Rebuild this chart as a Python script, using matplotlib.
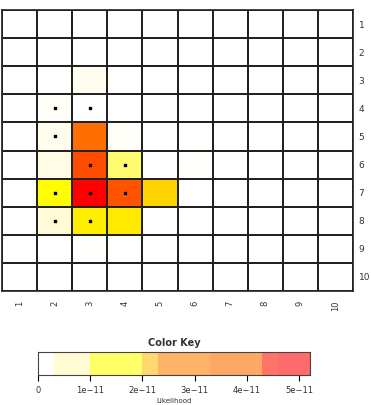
import numpy as np
import matplotlib.pyplot as plt
from matplotlib.colors import LinearSegmentedColormap, Normalize

# likelihood per cell, rows 1..10 (top to bottom), cols 1..10
rows = list(range(1, 11))
cols = list(range(1, 11))
likelihood = np.zeros((10, 10))
cells = {
    (3, 3): 0.2e-11,
    (4, 2): 0.08e-11,
    (5, 2): 0.2e-11, (5, 3): 3.6e-11, (5, 4): 0.1e-11,
    (6, 2): 0.3e-11, (6, 3): 4.3e-11, (6, 4): 1.0e-11, (6, 6): 0.06e-11,
    (7, 2): 1.6e-11, (7, 3): 5.2e-11, (7, 4): 4.2e-11, (7, 5): 2.4e-11,
    (8, 2): 0.45e-11, (8, 3): 1.9e-11, (8, 4): 2.0e-11,
    (9, 3): 0.05e-11,
}
for (r, c), v in cells.items():
    likelihood[r - 1, c - 1] = v

# observed points (row, col)
dot_rows = [4, 4, 5, 6, 6, 7, 7, 7, 8, 8]
dot_cols = [2, 3, 2, 3, 4, 2, 3, 4, 2, 3]

# colour key steps
key_breaks = [0, 0.3e-11, 1.0e-11, 2.0e-11, 2.3e-11, 3.3e-11, 4.3e-11, 4.6e-11, 5.21e-11]
key_colors = ['#ffffff', '#fffbd2', '#ffff66', '#ffd970', '#ffb366',
              '#ffa866', '#ff7466', '#ff6a6a']
key_ticks = [0, 1e-11, 2e-11, 3e-11, 4e-11, 5e-11]
key_labels = ['0', '1e\u221211', '2e\u221211', '3e\u221211', '4e\u221211', '5e\u221211']

vmax = 5.21e-11
cmap = LinearSegmentedColormap.from_list('heat', [
    (0.0, '#ffffff'), (0.1, '#fffad0'), (0.3, '#ffff00'), (0.45, '#ffd700'),
    (0.68, '#ff7000'), (0.82, '#ff5000'), (1.0, '#ff0000')])

fig = plt.figure(figsize=(3.71, 4.05), dpi=100)

ax = fig.add_axes([2 / 371, 1 - 291 / 405, 351 / 371, 281 / 405])
ax.pcolormesh(np.arange(0.5, 11), np.arange(0.5, 11), likelihood,
              cmap=cmap, norm=Normalize(0, vmax), edgecolors='#222222', linewidth=1.2)
ax.scatter(dot_cols, dot_rows, marker='s', s=4, color='black', zorder=3)
ax.set_xlim(0.5, 10.5)
ax.set_ylim(10.5, 0.5)
ax.yaxis.tick_right()
ax.set_yticks(rows)
ax.set_yticklabels([str(r) for r in rows], fontsize=6.5, color='#333333')
ax.set_xticks(cols)
ax.set_xticklabels([str(c) for c in cols], fontsize=6, rotation=90, color='#333333')
ax.tick_params(axis='x', length=0, pad=7)
ax.tick_params(axis='y', length=0, pad=4)
for s in ax.spines.values():
    s.set_color('#222222')
    s.set_linewidth(1.2)

# colour key
kax = fig.add_axes([38 / 371, 1 - 375 / 405, 272 / 371, 23 / 405])
for i in range(len(key_colors)):
    kax.axvspan(key_breaks[i], key_breaks[i + 1], color=key_colors[i], lw=0)
kax.set_xlim(0, vmax)
kax.set_ylim(0, 1)
kax.set_yticks([])
kax.set_xticks(key_ticks)
kax.set_xticklabels(key_labels, fontsize=6, color='#333333')
kax.tick_params(axis='x', length=4, width=0.8, pad=4)
for s in kax.spines.values():
    s.set_color('#444444')
    s.set_linewidth(0.8)
kax.set_title('Color Key', fontsize=7, fontweight='bold', color='#333333', pad=4)
kax.set_xlabel('Likelihood', fontsize=5, color='#333333', labelpad=2)

fig.savefig('out.png', dpi=100)
